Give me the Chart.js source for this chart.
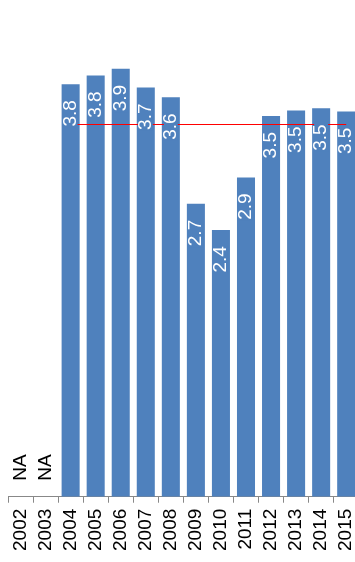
<!DOCTYPE html>
<html>
<head>
<meta charset="utf-8">
<script src="https://cdn.jsdelivr.net/npm/chart.js@4"></script>
<style>
  html, body { margin: 0; padding: 0; overflow: hidden; background: #fff; }
  #wrap { position: relative; width: 375px; height: 562px; }
</style>
</head>
<body>
<div id="wrap"><canvas id="chart"></canvas></div>
<script>
// yearly scores; null = no data (shown as NA)
const years = ['2002', '2003', '2004', '2005', '2006', '2007', '2008',
               '2009', '2010', '2011', '2012', '2013', '2014', '2015'];
const scores = [null, null, 3.76, 3.84, 3.9, 3.73, 3.64,
                2.67, 2.43, 2.91, 3.47, 3.52, 3.54, 3.51];
const missingText = 'NA';

// red reference line
const refValue = 3.4;
const refFrom = '2004';
const refTo = '2015';

const yMax = 4.5;

const BAR_COLOR = '#4f81bd';
const FONT = '"Liberation Sans", Arial, sans-serif';

// reference line first, then the value labels on a bar-coloured box over it
const overlay = {
  id: 'overlay',
  afterDatasetsDraw(chart) {
    const ctx = chart.ctx;
    const xs = chart.scales.x;
    const ys = chart.scales.y;
    const base = ys.getPixelForValue(0);

    const ly = Math.round(ys.getPixelForValue(refValue)) + 0.5;
    ctx.save();
    ctx.strokeStyle = '#ff0000';
    ctx.lineWidth = 1;
    ctx.beginPath();
    ctx.moveTo(xs.getPixelForValue(years.indexOf(refFrom)), ly);
    ctx.lineTo(xs.getPixelForValue(years.indexOf(refTo)), ly);
    ctx.stroke();
    ctx.restore();

    ctx.save();
    ctx.font = '19px ' + FONT;
    ctx.textBaseline = 'middle';
    scores.forEach((v, i) => {
      const x = xs.getPixelForValue(i);
      ctx.save();
      if (v == null) {
        ctx.translate(x, base - 16);
        ctx.rotate(-Math.PI / 2);
        ctx.textAlign = 'left';
        ctx.fillStyle = '#000';
        ctx.fillText(missingText, 0, 0);
      } else {
        const txt = v.toFixed(1);
        const w = ctx.measureText(txt).width;
        ctx.translate(x, ys.getPixelForValue(v) + 16);
        ctx.rotate(-Math.PI / 2);
        ctx.fillStyle = BAR_COLOR;
        ctx.fillRect(-w - 1, -7, w + 2, 14);
        ctx.textAlign = 'right';
        ctx.fillStyle = '#fff';
        ctx.fillText(txt, 0, 0);
      }
      ctx.restore();
    });
    ctx.restore();
  }
};

new Chart(document.getElementById('chart'), {
  type: 'bar',
  data: {
    labels: years,
    datasets: [{
      data: scores,
      backgroundColor: BAR_COLOR,
      borderWidth: 0
    }]
  },
  options: {
    responsive: true,
    maintainAspectRatio: false,
    animation: false,
    layout: { padding: { left: 8, top: 3, right: 0, bottom: 5 } },
    scales: {
      x: {
        grid: {
          display: true,
          drawOnChartArea: false,
          drawTicks: true,
          tickLength: 6,
          color: '#888'
        },
        border: { display: true, color: '#888' },
        ticks: {
          color: '#000',
          font: { family: FONT, size: 19 },
          minRotation: 90,
          maxRotation: 90,
          autoSkip: false,
          padding: 6
        }
      },
      y: {
        display: false,
        min: 0,
        max: yMax
      }
    },
    plugins: {
      legend: { display: false },
      tooltip: { enabled: false }
    }
  },
  plugins: [overlay]
});
</script>
</body>
</html>
